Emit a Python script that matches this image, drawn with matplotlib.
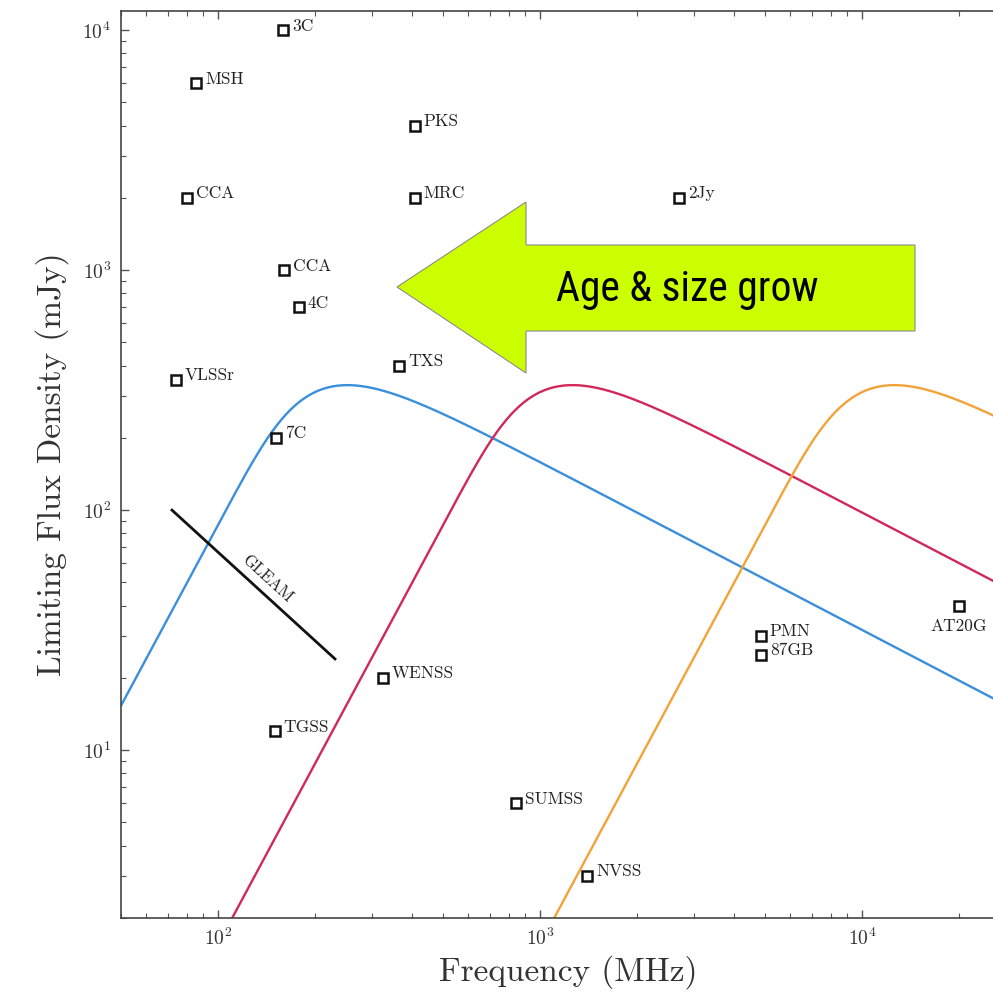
import numpy as np
import matplotlib
matplotlib.use("Agg")
import matplotlib.pyplot as plt
from matplotlib.patches import Polygon
from matplotlib import font_manager

# ---- survey limits: (name, frequency in MHz, limiting flux density in mJy)
survey_names = ["3C", "MSH", "CCA", "PKS", "MRC", "2Jy", "CCA", "4C", "VLSSr",
                "TXS", "7C", "WENSS", "TGSS", "SUMSS", "NVSS", "PMN", "87GB", "AT20G"]
survey_freq = [159, 85.5, 80, 408, 408, 2700, 160, 178, 74,
               365, 151, 325, 150, 843, 1400, 4850, 4850, 20000]
survey_flux = [10000, 6000, 2000, 4000, 2000, 2000, 1000, 700, 350,
               400, 200, 20, 12, 6, 3, 30, 25, 40]

# GLEAM sensitivity line (72-231 MHz)
gleam_freq = [72, 231]
gleam_flux = [100, 24]

# Peaked-spectrum source models (turnover frequency, flux at turnover, spectral indices)
turnover_freq = [200, 1000, 10000]          # MHz
turnover_flux = [310, 310, 310]             # mJy
alpha_thick = 2.5
alpha_thin = -0.7
curve_colors = ["#3a8fdc", "#d1285a", "#f2a338"]

plt.rcParams["font.family"] = "serif"
plt.rcParams["font.serif"] = ["cmr10", "DejaVu Serif"]
plt.rcParams["mathtext.fontset"] = "cm"
plt.rcParams["axes.unicode_minus"] = False
plt.rcParams["axes.formatter.use_mathtext"] = True

# pick a narrow sans for the arrow caption
installed = {f.name for f in font_manager.fontManager.ttflist}
narrow_candidates = ["Roboto Condensed", "Liberation Sans Narrow", "DejaVu Sans Condensed",
                     "Open Sans Condensed", "Noto Sans Display"]
caption_family = [n for n in narrow_candidates if n in installed]
caption_stretch = "normal"
if not caption_family:
    caption_family = ["DejaVu Sans"]
    caption_stretch = "condensed"

W = 993.0
fig = plt.figure(figsize=(9.93, 9.93), dpi=100)

xmin, xmax = 50, 30000
ymin, ymax = 2, 12000
px_per_dec_x = 322.0
ax_left, ax_bottom = 121 / W, 75 / W
ax_width = np.log10(xmax / xmin) * px_per_dec_x / W
ax_height = 907 / W
ax = fig.add_axes([ax_left, ax_bottom, ax_width, ax_height])
ax.set_xscale("log")
ax.set_yscale("log")
ax.set_xlim(xmin, xmax)
ax.set_ylim(ymin, ymax)

# model spectra
nu = np.logspace(np.log10(xmin), np.log10(xmax), 800)
for nu_p, s_p, col in zip(turnover_freq, turnover_flux, curve_colors):
    x = nu / nu_p
    s = s_p / (1 - np.exp(-1)) * x ** alpha_thick * (1 - np.exp(-x ** (alpha_thin - alpha_thick)))
    ax.plot(nu, s, color=col, lw=1.7, zorder=2)

# GLEAM line and label
ax.plot(gleam_freq, gleam_flux, color="#111111", lw=2.0, zorder=3)
p1 = ax.transData.transform((gleam_freq[0], gleam_flux[0]))
p2 = ax.transData.transform((gleam_freq[1], gleam_flux[1]))
ang = np.degrees(np.arctan2(p2[1] - p1[1], p2[0] - p1[0]))
ax.text(142, 52, "GLEAM", rotation=ang, rotation_mode="anchor", ha="center", va="center",
        fontsize=12, color="#222222", zorder=4)

# survey markers
ax.plot(survey_freq, survey_flux, linestyle="none", marker="s", markersize=7,
        markerfacecolor="white", markeredgecolor="#111111", markeredgewidth=1.8, zorder=5)
for name, f, s in zip(survey_names, survey_freq, survey_flux):
    if name == "AT20G":
        ax.annotate(name, (f, s), xytext=(0, -15), textcoords="offset points",
                    ha="center", va="center", fontsize=12.5, color="#222222", zorder=6)
    else:
        ax.annotate(name, (f, s), xytext=(6.5, 3), textcoords="offset points",
                    ha="left", va="center", fontsize=12.5, color="#222222", zorder=6)

# axes styling
for sp in ax.spines.values():
    sp.set_color("#444444")
    sp.set_linewidth(1.2)
ax.tick_params(which="both", direction="in", top=True, right=True, colors="#555555",
               labelcolor="#333333", labelsize=14)
ax.tick_params(which="major", length=6, width=1.0, pad=7)
ax.tick_params(which="minor", length=3.5, width=0.8)
ax.set_xlabel("Frequency (MHz)", fontsize=24, color="#333333", labelpad=4)
ax.set_ylabel("Limiting Flux Density (mJy)", fontsize=24, color="#333333", labelpad=10)

# "Age & size grow" arrow overlay (figure pixel coordinates)
arrow_px = [(397, 287), (526, 202), (526, 245), (915, 245), (915, 331), (526, 331), (526, 373)]
arrow_fig = [(x / W, 1 - y / W) for x, y in arrow_px]
fig.patches.append(Polygon(arrow_fig, closed=True, transform=fig.transFigure,
                           facecolor="#ccff00", edgecolor="#8a8a8a", lw=0.8, zorder=10))
cap = fig.text(687 / W, 1 - 289 / W, "Age & size grow", ha="center", va="center",
               fontsize=30, family=caption_family, stretch=caption_stretch,
               color="black", zorder=11)

# keep the caption at the width it occupies inside the arrow shaft
renderer = fig.canvas.get_renderer()
bb = cap.get_window_extent(renderer)
target_w = 263.0
if bb.width > target_w * 1.05:
    cap.set_fontsize(30 * target_w / bb.width)

fig.savefig("out.png", dpi=100)
